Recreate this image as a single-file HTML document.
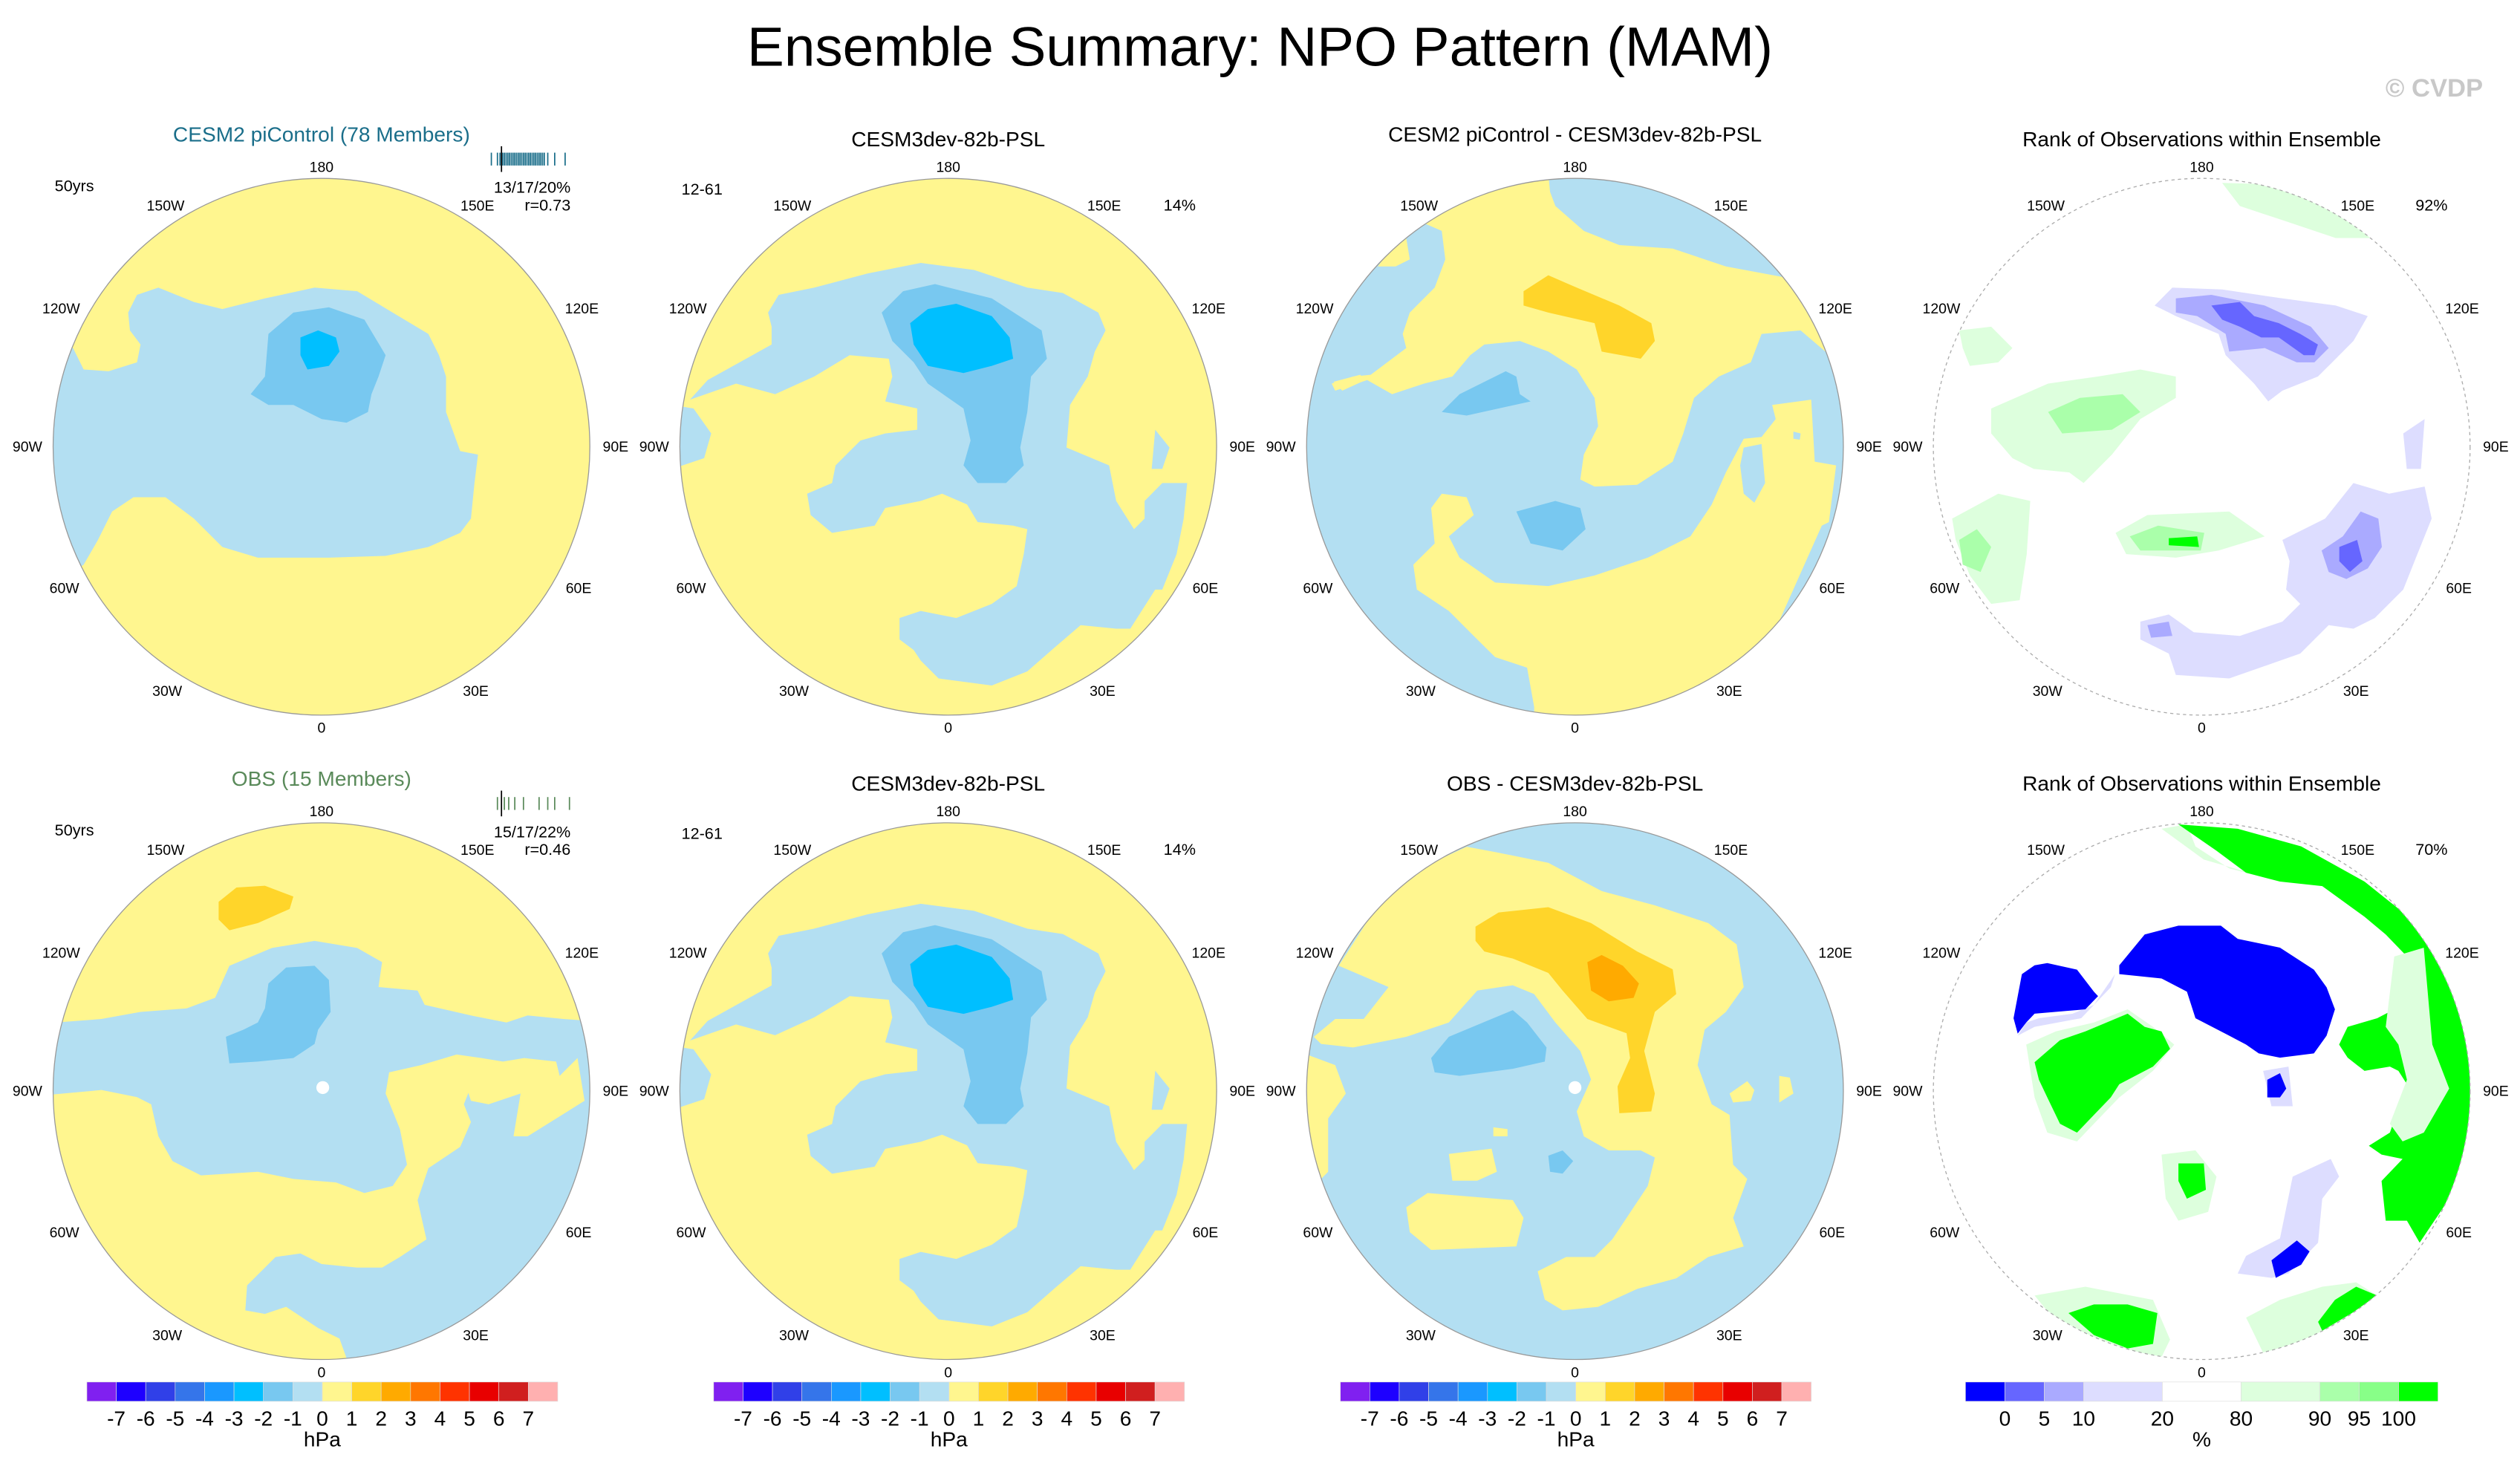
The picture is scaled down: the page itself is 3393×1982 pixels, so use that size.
<!DOCTYPE html>
<html><head><meta charset="utf-8"><style>
html,body{margin:0;padding:0;background:#fff}
svg{display:block}
text{font-family:"Liberation Sans",Arial,sans-serif}
</style></head><body>
<svg id="fig" width="3393" height="1982" viewBox="0 0 1568 916" xmlns="http://www.w3.org/2000/svg">
<defs>
<clipPath id="c1"><circle cx="200" cy="278" r="167"/></clipPath>
<clipPath id="c2"><circle cx="590" cy="278" r="167"/></clipPath>
<clipPath id="c3"><circle cx="980" cy="278" r="167"/></clipPath>
<clipPath id="c4"><circle cx="1370" cy="278" r="167"/></clipPath>
<clipPath id="c5"><circle cx="200" cy="679" r="167"/></clipPath>
<clipPath id="c6"><circle cx="590" cy="679" r="167"/></clipPath>
<clipPath id="c7"><circle cx="980" cy="679" r="167"/></clipPath>
<clipPath id="c8"><circle cx="1370" cy="679" r="167"/></clipPath>
</defs>
<text x="784" y="41" font-size="34.5" text-anchor="middle">Ensemble Summary: NPO Pattern (MAM)</text>
<text x="1545" y="60" font-size="16" font-weight="bold" fill="#c8c8c8" text-anchor="end">© CVDP</text>

<g id="p1" clip-path="url(#c1)">
<rect x="30" y="100" width="350" height="360" fill="#fff68f"/>
</g>
<circle cx="200" cy="278" r="167" fill="none" stroke="#999" stroke-width="0.6"/>

<g id="p2" clip-path="url(#c2)">
<rect x="420" y="100" width="350" height="360" fill="#fff68f"/>
</g>
<circle cx="590" cy="278" r="167" fill="none" stroke="#999" stroke-width="0.6"/>

<g id="p3" clip-path="url(#c3)">
<rect x="810" y="100" width="350" height="360" fill="#b3dff2"/>
</g>
<circle cx="980" cy="278" r="167" fill="none" stroke="#999" stroke-width="0.6"/>

<g id="p4" clip-path="url(#c4)"></g>
<circle cx="1370" cy="278" r="167" fill="none" stroke="#aaa" stroke-width="0.6" stroke-dasharray="2,2"/>

<g id="p5" clip-path="url(#c5)">
<rect x="30" y="500" width="350" height="360" fill="#b3dff2"/>
</g>
<circle cx="200" cy="679" r="167" fill="none" stroke="#999" stroke-width="0.6"/>

<g id="p6" clip-path="url(#c6)">
<rect x="420" y="500" width="350" height="360" fill="#fff68f"/>
</g>
<circle cx="590" cy="679" r="167" fill="none" stroke="#999" stroke-width="0.6"/>

<g id="p7" clip-path="url(#c7)">
<rect x="810" y="500" width="350" height="360" fill="#b3dff2"/>
</g>
<circle cx="980" cy="679" r="167" fill="none" stroke="#999" stroke-width="0.6"/>

<g id="p8" clip-path="url(#c8)"></g>
<circle cx="1370" cy="679" r="167" fill="none" stroke="#aaa" stroke-width="0.6" stroke-dasharray="2,2"/>

<g id="labels" font-size="13" text-anchor="middle">
<text x="200" y="88" fill="#1a6e8a">CESM2 piControl (78 Members)</text>
<text x="590" y="91">CESM3dev-82b-PSL</text>
<text x="980" y="88">CESM2 piControl - CESM3dev-82b-PSL</text>
<text x="1370" y="91">Rank of Observations within Ensemble</text>
<text x="200" y="489" fill="#5a8a5a">OBS (15 Members)</text>
<text x="590" y="492">CESM3dev-82b-PSL</text>
<text x="980" y="492">OBS - CESM3dev-82b-PSL</text>
<text x="1370" y="492">Rank of Observations within Ensemble</text>
</g>
<g font-size="10" text-anchor="start">
<text x="34" y="119">50yrs</text>
<text x="34" y="520">50yrs</text>
<text x="424" y="121">12-61</text>
<text x="424" y="522">12-61</text>
<text x="724" y="131">14%</text>
<text x="724" y="532">14%</text>
<text x="1503" y="131">92%</text>
<text x="1503" y="532">70%</text>
</g>
<g font-size="10" text-anchor="end">
<text x="355" y="120">13/17/20%</text>
<text x="355" y="131">r=0.73</text>
<text x="355" y="521">15/17/22%</text>
<text x="355" y="532">r=0.46</text>
</g>
<g id="strips"></g>
<g id="geo" font-size="9" text-anchor="middle"></g>
<g id="bars"></g>
</svg>
<script>
const NS="http://www.w3.org/2000/svg";
const psLevels=["-7","-6","-5","-4","-3","-2","-1","0","1","2","3","4","5","6","7"];
const psColors=["#8020f0","#1e00ff","#3040e8","#3575ea","#1a98ff","#00bfff","#78c8f0","#b3dff2","#fff68f","#ffd52a","#ffaa00","#ff7700","#ff3300","#e80000","#d01f1f","#ffb0b0"];
const rankLevels=["0","5","10","20","80","90","95","100"];
const rankColors=["#0000ff","#6666ff","#aaaaff","#ddddff","#ffffff","#ddffdd","#aaffaa","#88ff88","#00ff00"];
const rankWidths=[1,1,1,2,2,2,1,1,1];
const geoNames=["180","150E","120E","90E","60E","30E","0","30W","60W","90W","120W","150W"];
const stripTop=[0.05,0.12,0.15,0.18,0.2,0.22,0.24,0.26,0.28,0.3,0.32,0.34,0.36,0.38,0.4,0.42,0.44,0.46,0.48,0.5,0.52,0.54,0.56,0.58,0.6,0.62,0.64,0.66,0.7,0.78,0.9];
const stripBottom=[0.12,0.2,0.25,0.32,0.42,0.6,0.7,0.78,0.95];
function mk(tag,attrs,parent){const e=document.createElementNS(NS,tag);for(const k in attrs)e.setAttribute(k,attrs[k]);parent.appendChild(e);return e;}

function shapeT(g,pts,fill,T){
  let d='';
  for(let i=0;i<pts.length;i+=2){
    const x=T.ox+pts[i]*T.sx, y=T.oy+pts[i+1]*T.sy;
    d+=(i?'L':'M')+x.toFixed(1)+','+y.toFixed(1);
  }
  const p=mk('path',{d:d+'Z',fill:fill,'stroke-linejoin':'round'},g);
  
  
}
function shape(g,pts,fill,ox,oy){shapeT(g,pts,fill,{ox:ox,oy:oy,sx:0.22104,sy:0.22104});}
function dot(g,cx,cy){const c=mk('circle',{cx:cx,cy:cy,r:4,fill:'#fff'},g);}
const Y='#fff68f',B='#b3dff2',MB='#78c8f0',BB='#00bfff',O='#ffd52a',DO='#ffaa00';
const LG='#ddffdd',MG='#aaffaa',GG='#00ff00',LL='#ddddff',L2='#aaaaff',L3='#6666ff',BL='#0000ff';

// Panel 1
const g1=document.getElementById('p1'), o1x=27.73, o1y=101.67;
shape(g1,[235,420,260,370,320,350,420,390,500,410,620,380,760,350,880,360,980,420,1080,480,1110,540,1130,600,1130,700,1170,810,1220,820,1210,900,1200,1000,1170,1040,1080,1080,960,1105,800,1110,600,1110,500,1080,420,1000,340,940,250,940,190,980,150,1060,110,1130,0,1200,0,500,80,520,110,580,180,585,260,560,270,510,240,470],B,o1x,o1y);
shape(g1,[580,650,620,600,630,480,700,420,800,405,900,440,960,540,940,600,920,650,910,700,850,730,780,720,700,680,630,680],MB,o1x,o1y);
shape(g1,[720,490,770,470,820,490,830,530,800,570,740,580,720,540],BB,o1x,o1y);

[['p2',101.67],['p6',500.5]].forEach(([id,oy])=>{
  const g=document.getElementById(id), ox=418.2;
  shape(g,[270,420,300,370,400,350,550,310,700,280,850,300,1000,350,1100,365,1200,420,1220,470,1190,530,1170,600,1120,680,1110,800,1230,850,1250,950,1300,1030,1330,1000,1330,950,1380,900,1450,900,1440,1000,1420,1100,1380,1200,1360,1200,1290,1310,1250,1310,1150,1300,1080,1360,1000,1430,900,1470,750,1450,700,1400,680,1370,640,1340,640,1280,700,1260,800,1280,900,1240,970,1190,990,1100,1000,1030,960,1020,860,1010,830,960,760,930,700,950,600,970,570,1020,450,1040,390,990,380,930,450,900,460,850,530,780,600,760,690,750,690,690,600,670,620,600,610,550,500,540,400,600,290,650,180,620,50,665,100,610,280,510,280,460],B,ox,oy);
  shape(g,[0,680,60,690,110,760,90,830,0,860],B,ox,oy);
  shape(g,[1360,750,1400,800,1380,860,1350,860],B,ox,oy);
  shape(g,[590,420,650,360,740,340,900,380,1040,470,1055,550,1010,600,1000,700,980,800,990,850,940,900,860,900,820,850,840,780,820,690,720,620,680,560,620,500],MB,ox,oy);
  shape(g,[670,450,720,410,800,395,900,430,950,490,960,550,900,570,820,590,720,570,680,510],BB,ox,oy);
});

const g3=document.getElementById('p3');
shape(g3,[330,160,400,120,550,60,700,30,705,80,720,120,800,190,900,230,1050,240,1200,290,1360,320,1430,400,1520,550,1480,530,1410,470,1300,480,1270,560,1180,600,1110,660,1080,760,1050,840,950,905,830,910,790,890,800,820,840,740,830,660,780,580,700,530,620,500,520,510,480,540,430,600,350,620,260,650,190,610,100,640,90,620,150,600,200,595,300,520,290,480,310,420,380,350,410,270,400,190],Y,808.7,101.67);
shape(g3,[1330,680,1440,665,1450,840,1510,850,1490,1010,1470,1020,1300,1400,1100,1540,660,1560,660,1530,640,1420,550,1390,490,1330,420,1260,330,1200,320,1130,380,1070,370,970,400,930,470,940,490,990,420,1050,450,1110,550,1180,700,1190,830,1160,980,1110,1100,1050,1160,960,1200,870,1250,775,1300,770,1340,720],Y,808.7,101.67);
shape(g3,[1250,800,1300,790,1310,900,1280,955,1250,930,1240,850],B,808.7,101.67);
shape(g3,[1390,755,1410,760,1408,778,1390,775],B,808.7,101.67);
shape(g3,[220,290,250,250,300,210,310,270,270,290],Y,808.7,101.67);
shape(g3,[95,615,170,595,185,610,120,640],Y,808.7,101.67);
shape(g3,[630,360,700,315,780,350,900,400,990,450,1000,500,960,550,850,530,830,450,700,420,630,400],O,808.7,101.67);
shape(g3,[400,700,450,650,580,585,610,600,620,650,650,670,470,710],MB,808.7,101.67);
shape(g3,[610,980,720,950,790,970,805,1030,740,1090,650,1070],MB,808.7,101.67);

const g7=document.getElementById('p7');
shape(g7,[470,105,550,120,700,150,850,230,1000,270,1150,320,1230,380,1250,500,1200,570,1140,620,1120,720,1160,830,1210,860,1220,1000,1260,1040,1220,1150,1250,1230,1150,1260,1060,1320,950,1350,840,1400,740,1410,690,1380,670,1300,750,1260,830,1260,880,1210,920,1150,980,1060,1000,980,960,960,870,960,800,920,780,850,820,760,790,680,720,600,660,520,600,495,500,510,420,600,300,640,150,670,60,660,40,640,100,590,180,590,250,500,110,440,200,300,330,170],Y,808.7,503.7);
shape(g7,[20,690,100,720,130,800,80,870,80,1020,60,1040,10,900],Y,808.7,503.7);
shape(g7,[300,1120,360,1080,600,1100,630,1150,610,1230,370,1240,310,1190],Y,808.7,503.7);
shape(g7,[420,970,540,955,555,1020,500,1045,430,1045],Y,808.7,503.7);
shape(g7,[1210,800,1260,765,1280,790,1270,820,1220,825],Y,808.7,503.7);
shape(g7,[1350,750,1380,755,1390,800,1350,825],Y,808.7,503.7);
shape(g7,[545,895,585,900,585,920,545,920],Y,808.7,503.7);
shape(g7,[495,330,560,290,700,275,820,320,950,400,1050,450,1060,520,1000,570,970,680,1000,800,990,850,900,855,895,780,930,700,920,630,810,590,740,510,700,460,600,420,520,400,495,370],O,808.7,503.7);
shape(g7,[810,430,850,410,910,440,955,490,940,530,870,540,820,510],DO,808.7,503.7);
shape(g7,[370,700,420,640,540,590,600,565,640,600,695,670,690,710,600,730,450,750,380,740],MB,808.7,503.7);
shape(g7,[700,975,740,960,770,990,740,1025,705,1020],MB,808.7,503.7);
dot(g7,980,676.8);

// Panel 5 (OBS): base blue, yellow overlays
const g5=document.getElementById('p5'), o5x=27.73, o5y=503.7;
shape(g5,[-60,600,30,600,160,590,270,570,400,560,480,530,520,440,640,390,760,370,880,390,950,430,940,500,1050,510,1070,550,1200,580,1300,600,1360,580,1460,590,1600,600,1600,-60,-60,-60],Y,o5x,o5y);
shape(g5,[-60,810,160,790,260,810,300,830,320,920,360,990,440,1030,600,1020,700,1040,820,1050,900,1080,980,1060,1020,1000,1000,900,960,800,970,740,1060,720,1160,690,1180,720,1200,780,1180,830,1200,880,1170,950,1080,1010,1050,1100,1075,1210,1000,1260,950,1290,880,1290,780,1280,720,1250,650,1260,570,1340,565,1410,620,1420,680,1400,770,1460,830,1490,870,1600,-60,1600],Y,o5x,o5y);
shape(g5,[1160,690,1230,700,1290,710,1350,700,1440,710,1450,750,1500,700,1520,820,1360,920,1320,920,1340,800,1250,830,1200,820,1180,760],Y,o5x,o5y);
shape(g5,[950,50,1100,100,1250,200,1340,280,1400,250,1200,120,1050,60],B,o5x,o5y);
shape(g5,[490,260,540,220,620,215,700,245,690,280,600,320,520,340,490,310],O,o5x,o5y);
shape(g5,[510,640,560,620,600,600,620,560,630,490,680,445,760,440,800,480,805,570,770,620,760,660,700,700,600,710,520,715],MB,o5x,o5y);
dot(g5,200.8,676.8);

// Panel 4 (rank top)
const g4=document.getElementById('p4'), o4x=1199.2, o4y=101.67;
shape(g4,[830,55,1000,60,1150,140,1250,210,1150,210,1000,160,880,120],LG,o4x,o4y);
shape(g4,[180,690,340,620,480,600,600,580,700,600,700,660,600,720,520,820,440,900,400,870,300,860,240,830,180,760],LG,o4x,o4y);
shape(g4,[90,470,180,460,240,520,200,560,120,570,100,520],LG,o4x,o4y);
shape(g4,[70,1000,200,930,290,950,280,1100,260,1230,180,1240,120,1160,80,1060],LG,o4x,o4y);
shape(g4,[530,1040,620,990,850,980,950,1050,820,1090,700,1110,560,1100],LG,o4x,o4y);
shape(g4,[340,700,430,660,550,650,600,700,520,750,380,760],MG,o4x,o4y);
shape(g4,[90,1060,140,1030,180,1080,150,1150,100,1130],MG,o4x,o4y);
shape(g4,[570,1050,650,1020,780,1040,770,1090,600,1090],MG,o4x,o4y);
shape(g4,[680,1055,760,1050,765,1080,680,1075],GG,o4x,o4y);
shape(g4,[640,400,690,350,830,355,1000,380,1150,400,1240,430,1200,500,1140,560,1100,600,1000,640,960,670,920,620,840,540,820,480,700,430],LL,o4x,o4y);
shape(g4,[700,380,800,370,950,400,1080,460,1130,520,1090,560,1040,560,950,520,850,530,840,480,760,430,700,420],L2,o4x,o4y);
shape(g4,[800,400,880,390,920,430,990,450,1050,480,1100,510,1090,540,1060,540,990,490,940,490,880,460,830,440],L3,o4x,o4y);
shape(g4,[1000,1060,1120,1000,1200,900,1300,930,1400,910,1420,1000,1380,1100,1340,1200,1260,1280,1200,1310,1130,1300,1050,1380,850,1450,700,1440,680,1380,600,1340,600,1290,680,1270,750,1320,880,1330,1000,1290,1050,1240,1010,1200,1020,1120],LL,o4x,o4y);
shape(g4,[1340,760,1400,720,1390,860,1350,860],LL,o4x,o4y);
shape(g4,[1110,1090,1170,1050,1220,980,1270,1000,1280,1080,1240,1140,1180,1170,1130,1150],L2,o4x,o4y);
shape(g4,[620,1300,680,1290,690,1330,630,1335],L2,o4x,o4y);
shape(g4,[1160,1080,1210,1060,1225,1120,1190,1150,1160,1120],L3,o4x,o4y);

// Panel 8 (rank bottom)
const g8=document.getElementById('p8'), T8={ox:1155.5,oy:485.6,sx:0.2632,sy:0.274};
shapeT(g8,[720,110,780,100,800,150,880,200,1000,230,820,180],LG,T8);
shapeT(g8,[760,100,900,110,1050,150,1200,230,1330,330,1420,450,1460,600,1450,800,1400,950,1330,1050,1300,1000,1250,1000,1240,910,1290,860,1240,850,1210,830,1260,800,1300,690,1280,660,1260,650,1200,660,1160,630,1140,600,1160,560,1230,540,1270,520,1280,440,1300,400,1250,350,1200,310,1100,240,1000,230,920,210,850,160,790,120],GG,T8);
shapeT(g8,[1270,400,1340,380,1360,600,1400,700,1340,800,1290,820,1260,780,1300,680,1280,600,1250,560],LG,T8);
shapeT(g8,[620,420,680,350,760,330,860,330,900,360,1000,380,1080,430,1110,470,1130,520,1110,580,1080,620,1000,630,950,620,920,600,880,580,800,540,780,480,720,450,620,440],BL,T8);
shapeT(g8,[400,550,430,540,510,530,560,510,610,440,600,470,530,540,420,560,380,580],LL,T8);
shapeT(g8,[390,440,420,420,450,415,520,430,560,480,570,490,540,520,420,530,400,550,380,575,370,540],BL,T8);
shapeT(g8,[400,600,470,570,560,550,640,520,700,560,750,600,700,660,620,720,560,780,520,820,450,800,420,720],LG,T8);
shapeT(g8,[420,640,480,590,540,570,640,530,680,560,720,570,740,610,700,650,620,690,600,720,560,760,520,800,480,780,450,720,430,680],GG,T8);
shapeT(g8,[960,660,1020,650,1030,740,980,740],LL,T8);
shapeT(g8,[970,680,1000,665,1015,700,1000,720,970,720],BL,T8);
shapeT(g8,[720,850,800,840,850,900,830,980,760,1000,730,950],LG,T8);
shapeT(g8,[760,870,820,870,825,930,780,950,760,910],GG,T8);
shapeT(g8,[1030,900,1120,860,1140,900,1100,950,1090,1050,1060,1080,1020,1120,980,1130,900,1120,920,1080,1000,1040],LL,T8);
shapeT(g8,[980,1090,1040,1045,1070,1070,1050,1100,990,1130],BL,T8);
shapeT(g8,[420,1170,540,1150,700,1180,740,1270,720,1310,600,1300,480,1240],LG,T8);
shapeT(g8,[500,1210,560,1190,640,1190,710,1210,700,1280,640,1290,560,1260],GG,T8);
shapeT(g8,[920,1220,1000,1180,1100,1150,1180,1140,1230,1170,1100,1260,960,1300,940,1260],LG,T8);
shapeT(g8,[1090,1230,1130,1180,1180,1150,1230,1170,1170,1210,1100,1250],GG,T8);

const centers=[[200,278],[590,278],[980,278],[1370,278],[200,679],[590,679],[980,679],[1370,679]];
const geoDx=[0,97,162,183,160,96,0,-96,-160,-183,-162,-97];
const geoDy=[-174,-150,-86,0,88,152,175,152,88,0,-86,-150];
const geo=document.getElementById('geo');
centers.forEach(c=>{
  geoNames.forEach((n,i)=>{
    const t=mk('text',{x:c[0]+geoDx[i],y:c[1]+geoDy[i]+3},geo);
    
    
    t.textContent=n;
  });
});
const strips=document.getElementById('strips');
function strip(vals,y,col){
  vals.forEach(v=>{
    const l=mk('line',{x1:303+54*v,x2:303+54*v,y1:y-4,y2:y+4,stroke:col,'stroke-width':0.8},strips);
    
    
  });
  const m=mk('line',{x1:312,x2:312,y1:y-8,y2:y+8,stroke:'#000','stroke-width':0.8},strips);
  
  
}
strip(stripTop,99,'#1a6e8a');
strip(stripBottom,500,'#5a8a5a');
const bars=document.getElementById('bars');
[54,444,834].forEach(x0=>{
  const w=293/psColors.length;
  psColors.forEach((c,i)=>{
    const r=mk('rect',{x:x0+i*w,y:860,width:w,height:12,fill:c,stroke:'#ddd','stroke-width':0.3},bars);
    
    
  });
  psLevels.forEach((s,i)=>{
    const t=mk('text',{x:x0+(i+1)*w,y:887,'font-size':13,'text-anchor':'middle'},bars);
    
    
    t.textContent=s;
  });
  const u=mk('text',{x:x0+146.5,y:900,'font-size':13,'text-anchor':'middle'},bars);
  
  
  u.textContent='hPa';
});
(function(){
  const x0=1223,W=294,tot=rankWidths.reduce((a,b)=>a+b,0);let x=x0;
  rankColors.forEach((c,i)=>{
    const w=W*rankWidths[i]/tot;
    const r=mk('rect',{x:x,y:860,width:w,height:12,fill:c,stroke:'#ddd','stroke-width':0.3},bars);
    
    
    x+=w;
    if(i<rankLevels.length){
      const t=mk('text',{x:x,y:887,'font-size':13,'text-anchor':'middle'},bars);
      
      
      t.textContent=rankLevels[i];
    }
  });
  const u=mk('text',{x:1370,y:900,'font-size':13,'text-anchor':'middle'},bars);
  
  
  u.textContent='%';
})();
</script>
</body></html>
